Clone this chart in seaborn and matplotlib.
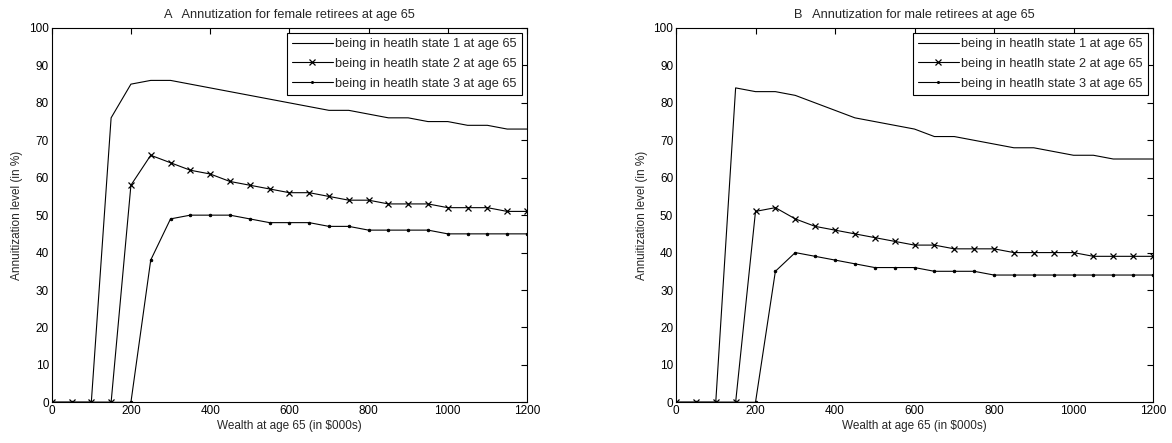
import matplotlib
matplotlib.use("Agg")
import matplotlib.pyplot as plt
import seaborn as sns
import pandas as pd

wealth = [0, 50, 100, 150, 200, 250, 300, 350, 400, 450, 500, 550, 600, 650,
          700, 750, 800, 850, 900, 950, 1000, 1050, 1100, 1150, 1200]

female_s1 = [0, 0, 0, 76, 85, 86, 86, 85, 84, 83, 82, 81, 80, 79,
             78, 78, 77, 76, 76, 75, 75, 74, 74, 73, 73]
female_s2 = [0, 0, 0, 0, 58, 66, 64, 62, 61, 59, 58, 57, 56, 56,
             55, 54, 54, 53, 53, 53, 52, 52, 52, 51, 51]
female_s3 = [0, 0, 0, 0, 0, 38, 49, 50, 50, 50, 49, 48, 48, 48,
             47, 47, 46, 46, 46, 46, 45, 45, 45, 45, 45]

male_s1 = [0, 0, 0, 84, 83, 83, 82, 80, 78, 76, 75, 74, 73, 71,
           71, 70, 69, 68, 68, 67, 66, 66, 65, 65, 65]
male_s2 = [0, 0, 0, 0, 51, 52, 49, 47, 46, 45, 44, 43, 42, 42,
           41, 41, 41, 40, 40, 40, 40, 39, 39, 39, 39]
male_s3 = [0, 0, 0, 0, 0, 35, 40, 39, 38, 37, 36, 36, 36, 35,
           35, 35, 34, 34, 34, 34, 34, 34, 34, 34, 34]

series_labels = ["being in heatlh state 1 at age 65",
                 "being in heatlh state 2 at age 65",
                 "being in heatlh state 3 at age 65"]
titles = ["A   Annutization for female retirees at age 65",
          "B   Annutization for male retirees at age 65"]
xlabel = "Wealth at age 65 (in $000s)"
ylabel = "Annuitization level (in %)"
xticks = [0, 200, 400, 600, 800, 1000, 1200]
yticks = list(range(0, 101, 10))

sns.set_style("white")
plt.rcParams['font.family'] = ['Liberation Sans', 'DejaVu Sans']
plt.rcParams['font.size'] = 8.5

fig = plt.figure(figsize=(11.72, 4.43), dpi=100)
W, H = 1172, 443
ax1 = fig.add_axes([51.7 / W, 1 - 402.3 / H, (527 - 51.7) / W, (402.3 - 28) / H])
ax2 = fig.add_axes([676 / W, 1 - 402.3 / H, (1153 - 676) / W, (402.3 - 28) / H])

styles = [dict(marker=None),
          dict(marker='x', markersize=5, markeredgewidth=0.9,
               markeredgecolor='black', markerfacecolor='black'),
          dict(marker='.', markersize=3.5,
               markeredgecolor='black', markerfacecolor='black')]

for ax, data, title in [(ax1, [female_s1, female_s2, female_s3], titles[0]),
                        (ax2, [male_s1, male_s2, male_s3], titles[1])]:
    for vals, lab, st in zip(data, series_labels, styles):
        df = pd.DataFrame({"wealth": wealth, "level": vals})
        sns.lineplot(data=df, x="wealth", y="level", ax=ax, color="black",
                     linewidth=0.8, label=lab, **st)
    ax.set_xlim(0, 1200)
    ax.set_ylim(0, 100)
    ax.set_xticks(xticks)
    ax.set_yticks(yticks)
    ax.tick_params(direction='in', top=True, right=True, length=4, width=0.8,
                   labelsize=8.5, pad=2, colors='black')
    for sp in ax.spines.values():
        sp.set_visible(True)
        sp.set_color('black')
        sp.set_linewidth(0.8)
    ax.set_title(title, fontsize=9.2, pad=7)
    ax.set_xlabel(xlabel, fontsize=8.5, labelpad=2)
    ax.set_ylabel(ylabel, fontsize=8.5, labelpad=4)
    leg = ax.legend(loc='upper right', borderaxespad=0.4, fancybox=False,
                    edgecolor='black', framealpha=1, fontsize=9.2,
                    handlelength=3.2, handletextpad=0.2, borderpad=0.4,
                    labelspacing=0.6, markerscale=0.8)
    leg.get_frame().set_linewidth(0.8)

fig.savefig("out.png", dpi=100)
